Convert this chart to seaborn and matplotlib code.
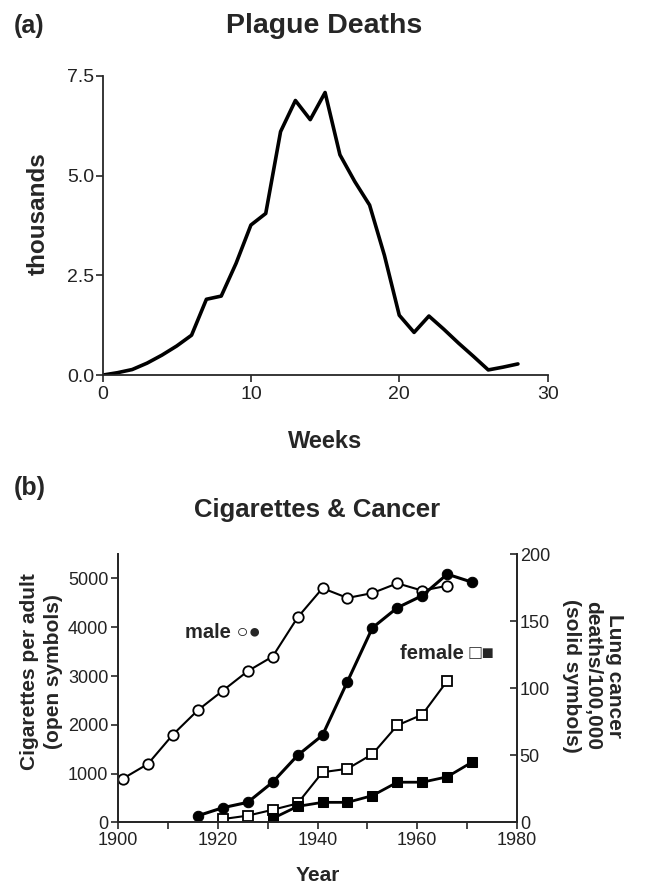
import numpy as np
import matplotlib
matplotlib.use("Agg")
import matplotlib.pyplot as plt
import seaborn as sns

# (a) plague deaths, thousands per week
weeks = list(range(29))
plague_deaths = [0.0, 0.06, 0.14, 0.30, 0.50, 0.73, 1.0, 1.9, 1.98, 2.8, 3.76, 4.05, 6.10, 6.88,
                 6.40, 7.08, 5.52, 4.85, 4.26, 3.0, 1.5, 1.07, 1.48, 1.15, 0.80, 0.47, 0.13, 0.20, 0.28]

# (b) cigarettes per adult (open) and lung cancer deaths/100,000 (solid)
years_male_cig = [1901, 1906, 1911, 1916, 1921, 1926, 1931, 1936, 1941, 1946, 1951, 1956, 1961, 1966]
male_cig = [900, 1200, 1800, 2300, 2700, 3100, 3400, 4200, 4800, 4600, 4700, 4900, 4750, 4850]
years_male_ca = [1916, 1921, 1926, 1931, 1936, 1941, 1946, 1951, 1956, 1961, 1966, 1971]
male_ca = [5, 11, 15, 30, 50, 65, 105, 145, 160, 169, 185, 179]
years_female_cig = [1921, 1926, 1931, 1936, 1941, 1946, 1951, 1956, 1961, 1966]
female_cig = [70, 140, 260, 390, 1030, 1100, 1400, 1990, 2210, 2900]
years_female_ca = [1931, 1936, 1941, 1946, 1951, 1956, 1961, 1966, 1971]
female_ca = [3, 12, 15, 15, 20, 30, 30, 34, 45]

sns.set_style("ticks")
plt.rcParams["font.family"] = ["Liberation Sans", "DejaVu Sans"]
plt.rcParams["axes.linewidth"] = 1.3

fig = plt.figure(figsize=(6.45, 8.91), dpi=100)

# ---- panel (a)
ax = fig.add_axes([0.159, 0.579, 0.690, 0.336])
sns.lineplot(x=weeks, y=plague_deaths, ax=ax, color="black", lw=2.6)
ax.set_xlim(0, 30)
ax.set_ylim(0, 7.5)
ax.set_xticks([0, 10, 20, 30])
ax.set_yticks([0, 2.5, 5.0, 7.5])
ax.set_yticklabels(["0.0", "2.5", "5.0", "7.5"])
ax.tick_params(direction="out", length=5, width=1.2, labelsize=14, pad=1, labelcolor="#222222")
ax.tick_params(axis="x", pad=3)
ax.set_xlabel("Weeks", fontsize=17, fontweight="bold", labelpad=19)
ax.set_ylabel("thousands", fontsize=17.5, fontweight="bold")
ax.yaxis.set_label_coords(-0.118, 0.538)
sns.despine(ax=ax)
fig.text(0.502, 0.963, "Plague Deaths", ha="center", va="baseline", fontsize=20.5, fontweight="bold")
fig.text(0.022, 0.971, "(a)", ha="left", va="center", fontsize=18, fontweight="bold")

# ---- panel (b)
axb = fig.add_axes([0.183, 0.0769, 0.6186, 0.3013])
axr = axb.twinx()

open_kw = dict(marker="o", markersize=7.5, markerfacecolor="white", markeredgecolor="black",
               markeredgewidth=1.3, color="black")
sns.lineplot(x=years_male_cig, y=male_cig, ax=axb, lw=1.5, **open_kw)
sns.lineplot(x=years_female_cig, y=female_cig, ax=axb, lw=1.5,
             **{**open_kw, "marker": "s", "markersize": 7})
sns.lineplot(x=years_male_ca, y=male_ca, ax=axr, color="black", lw=2.2, marker="o",
             markersize=7.5, markerfacecolor="black", markeredgecolor="black")
sns.lineplot(x=years_female_ca, y=female_ca, ax=axr, color="black", lw=2.0, marker="s",
             markersize=7, markerfacecolor="black", markeredgecolor="black")

axb.set_xlim(1900, 1980)
axb.set_ylim(0, 5500)
axr.set_ylim(0, 200)
axb.set_xticks(range(1900, 1981, 20))
axb.set_xticks(range(1910, 1980, 20), minor=True)
axb.set_yticks(range(0, 5001, 1000))
axr.set_yticks(range(0, 201, 50))
axb.tick_params(which="both", direction="out", length=5, width=1.2, labelsize=13, pad=2,
                labelcolor="#222222")
axr.tick_params(direction="in", length=5, width=1.2, labelsize=13, pad=2, labelcolor="#222222")
axb.spines["top"].set_visible(False)
axr.spines["top"].set_visible(False)

axb.set_xlabel("Year", fontsize=15, fontweight="bold", labelpad=12)
axb.set_ylabel("Cigarettes per adult\n(open symbols)", fontsize=15, fontweight="bold",
               linespacing=1.3)
axb.yaxis.set_label_coords(-0.138, 0.564)
axr.set_ylabel("Lung cancer\ndeaths/100,000\n(solid symbols)", fontsize=15, fontweight="bold",
               rotation=270, va="bottom", linespacing=1.15)
axr.yaxis.set_label_coords(1.113, 0.546)

axb.text(1913.4, 3900, "male \u25cb\u25cf", ha="left", va="center", fontsize=14.5, fontweight="bold")
axb.text(1956.5, 3470, "female \u25a1\u25a0", ha="left", va="center", fontsize=14.5, fontweight="bold")

fig.text(0.492, 0.42, "Cigarettes & Cancer", ha="center", va="baseline", fontsize=18.5,
         fontweight="bold")
fig.text(0.022, 0.452, "(b)", ha="left", va="center", fontsize=18, fontweight="bold")

fig.savefig("out.png", dpi=100)
